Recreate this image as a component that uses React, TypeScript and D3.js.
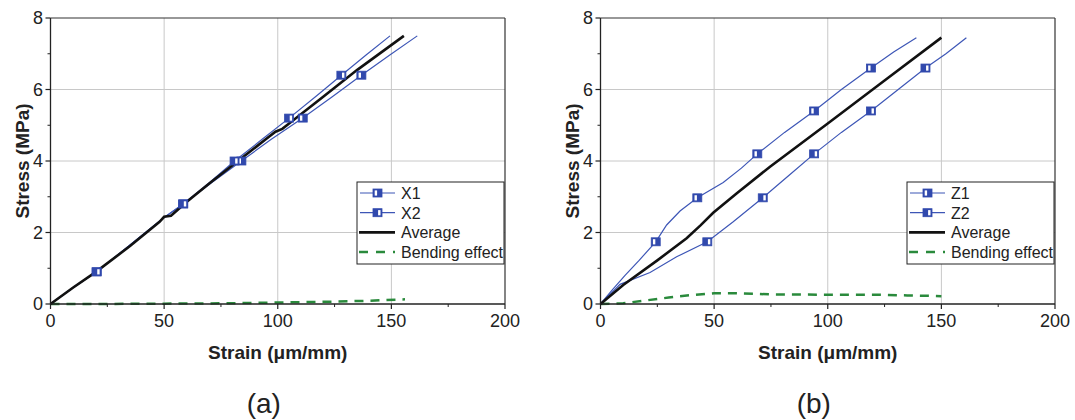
import React from 'react';
import * as d3 from 'd3';

type P = [number, number];

const xTicks = [0, 50, 100, 150, 200];
const yTicks = [0, 2, 4, 6, 8];
const xMinor = [25, 75, 125, 175];
const yMinor = [1, 3, 5, 7];
const xTitle = 'Strain (\u03bcm/mm)';
const yTitle = 'Stress (MPa)';

// Panel (a)
const x1Line: P[] = [[0, 0], [10, 0.46], [20.3, 0.9], [35, 1.65], [50, 2.42], [58.4, 2.8], [71, 3.4], [84, 4.0], [97, 4.6], [111, 5.2], [124, 5.8], [136.8, 6.4], [149, 6.95], [161.4, 7.5]];
const x1Marks: P[] = [[20.3, 0.9], [58.4, 2.8], [84, 4.0], [111, 5.2], [136.8, 6.4]];
const x2Line: P[] = [[0, 0], [10, 0.46], [20.3, 0.9], [35, 1.65], [50, 2.42], [58.4, 2.8], [70, 3.4], [81, 4.0], [93, 4.6], [105, 5.2], [117, 5.82], [128, 6.4], [139, 6.97], [149.4, 7.5]];
const x2Marks: P[] = [[20.3, 0.9], [58.4, 2.8], [81, 4.0], [105, 5.2], [128, 6.4]];
const avgA: P[] = [[0, 0], [10, 0.46], [20, 0.9], [35, 1.62], [48, 2.3], [50, 2.44], [53, 2.47], [60, 2.86], [70, 3.38], [82.5, 4.0], [95, 4.62], [99, 4.82], [102, 4.9], [105, 5.05], [120, 5.8], [135, 6.55], [155.5, 7.5]];
const bendA: P[] = [[0, 0], [20, 0.0], [50, 0.01], [80, 0.02], [100, 0.04], [120, 0.06], [140, 0.09], [156, 0.13]];

// Panel (b)
const z1Line: P[] = [[0, 0], [5, 0.38], [10.8, 0.8], [17, 1.22], [24.3, 1.74], [29.1, 2.21], [35, 2.6], [42.6, 2.97], [54, 3.4], [62, 3.8], [69, 4.2], [81, 4.8], [94, 5.4], [106, 6.0], [119, 6.6], [129, 7.05], [139, 7.45]];
const z1Marks: P[] = [[24.3, 1.74], [42.6, 2.97], [69, 4.2], [94, 5.4], [119, 6.6]];
const z2Line: P[] = [[0, 0], [8.6, 0.55], [21.8, 0.88], [33.5, 1.32], [47, 1.74], [58.4, 2.3], [71.4, 2.97], [83, 3.6], [94, 4.2], [106, 4.8], [119, 5.4], [131, 6.0], [143, 6.6], [152, 7.0], [161, 7.45]];
const z2Marks: P[] = [[47, 1.74], [71.4, 2.97], [94, 4.2], [119, 5.4], [143, 6.6]];
const avgB: P[] = [[0, 0], [10, 0.53], [25, 1.22], [37.9, 1.84], [44, 2.2], [49.6, 2.55], [60, 3.1], [74.6, 3.84], [100, 5.05], [125, 6.25], [150, 7.45]];
const bendB: P[] = [[0, 0], [10, 0.02], [20, 0.1], [30, 0.18], [40, 0.25], [50, 0.3], [60, 0.3], [75, 0.27], [100, 0.26], [120, 0.26], [135, 0.24], [150, 0.22]];

const legendA = ['X1', 'X2', 'Average', 'Bending effect'];
const legendB = ['Z1', 'Z2', 'Average', 'Bending effect'];
const panelLabels = ['(a)', '(b)'];

const FONT = '"Liberation Sans", Arial, Helvetica, sans-serif';
const BLUE = '#3d56b6';
const MBLUE = '#3149ad';
const GREEN = '#2a8a3c';

const Marker = ({ x, y, side }: { x: number; y: number; side: 'L' | 'R' }) => (
  <g transform={`translate(${x},${y})`}>
    <rect x={-4.5} y={-4} width={9} height={8} fill={MBLUE} stroke={MBLUE} strokeWidth={0.8} />
    <rect x={side === 'L' ? -2.8 : 0.6} y={-2.6} width={2.4} height={5.2} fill="#fff" />
  </g>
);

type PanelProps = {
  x0: number;
  s1: P[]; m1: P[]; s2: P[]; m2: P[]; avg: P[]; bend: P[];
  legend: string[]; label: string;
};

const Panel = ({ x0, s1, m1, s2, m2, avg, bend, legend, label }: PanelProps) => {
  const left = x0, right = x0 + 454.5, top = 18, bottom = 304;
  const x = d3.scaleLinear().domain([0, 200]).range([left, right]);
  const y = d3.scaleLinear().domain([0, 8]).range([bottom, top]);
  const line = d3.line<P>().x(d => x(d[0])).y(d => y(d[1]));
  const cx = (left + right) / 2;
  const lx = right - 148, ly = top + 164;
  const rowY = (i: number) => ly + 11 + i * 19.7;
  return (
    <g>
      {xTicks.slice(1, -1).map(t => (
        <line key={'gx' + t} x1={x(t)} x2={x(t)} y1={top} y2={bottom} stroke="#c8c8c8" strokeWidth={1} />
      ))}
      {yTicks.slice(1, -1).map(t => (
        <line key={'gy' + t} x1={left} x2={right} y1={y(t)} y2={y(t)} stroke="#c8c8c8" strokeWidth={1} />
      ))}
      <path d={line(bend) || ''} fill="none" stroke={GREEN} strokeWidth={2.5} strokeDasharray="9,7" />
      <path d={line(s1) || ''} fill="none" stroke={BLUE} strokeWidth={1.2} />
      <path d={line(s2) || ''} fill="none" stroke={BLUE} strokeWidth={1.2} />
      <path d={line(avg) || ''} fill="none" stroke="#111" strokeWidth={2.6} />
      {m1.map((d, i) => <Marker key={'m1' + i} x={x(d[0])} y={y(d[1])} side="L" />)}
      {m2.map((d, i) => <Marker key={'m2' + i} x={x(d[0])} y={y(d[1])} side="R" />)}
      {/* frame */}
      <line x1={left} x2={right} y1={top} y2={top} stroke="#333" strokeWidth={1.2} />
      <line x1={right} x2={right} y1={top} y2={bottom} stroke="#333" strokeWidth={1.2} />
      <line x1={left} x2={right} y1={bottom} y2={bottom} stroke="#222" strokeWidth={1.3} />
      <line x1={left} x2={left} y1={top} y2={bottom} stroke="#222" strokeWidth={1.3} />
      {xTicks.map(t => (
        <g key={'xt' + t}>
          <line x1={x(t)} x2={x(t)} y1={bottom} y2={bottom + 5} stroke="#222" strokeWidth={1.2} />
          <text x={x(t)} y={bottom + 23} textAnchor="middle" fontSize={18} fontFamily={FONT} fill="#222">{t}</text>
        </g>
      ))}
      {xMinor.map(t => (
        <line key={'xm' + t} x1={x(t)} x2={x(t)} y1={bottom} y2={bottom + 3} stroke="#222" strokeWidth={1} />
      ))}
      {yTicks.map(t => (
        <g key={'yt' + t}>
          <line x1={left - 5} x2={left} y1={y(t)} y2={y(t)} stroke="#222" strokeWidth={1.2} />
          <text x={left - 7.5} y={y(t) + 6.4} textAnchor="end" fontSize={18} fontFamily={FONT} fill="#222">{t}</text>
        </g>
      ))}
      {yMinor.map(t => (
        <line key={'ym' + t} x1={left - 3} x2={left} y1={y(t)} y2={y(t)} stroke="#222" strokeWidth={1} />
      ))}
      <text x={cx} y={359} textAnchor="middle" fontSize={19} fontWeight="bold" fontFamily={FONT} fill="#222">{xTitle}</text>
      <text transform={`translate(${left - 22},${(top + bottom) / 2}) rotate(-90)`} textAnchor="middle" fontSize={19} fontWeight="bold" fontFamily={FONT} fill="#222">{yTitle}</text>
      <text x={cx - 14} y={413} textAnchor="middle" fontSize={28} fontFamily={FONT} fill="#222">{label}</text>
      {/* legend */}
      <rect x={lx} y={ly} width={147} height={82} fill="#fff" stroke="#222" strokeWidth={1} />
      {legend.map((name, i) => {
        const ry = rowY(i);
        return (
          <g key={name}>
            {i < 2 && (
              <>
                <line x1={lx + 3} x2={lx + 38} y1={ry} y2={ry} stroke={BLUE} strokeWidth={1.2} />
                <Marker x={lx + 20.5} y={ry} side={i === 0 ? 'L' : 'R'} />
              </>
            )}
            {i === 2 && <line x1={lx + 2} x2={lx + 38} y1={ry} y2={ry} stroke="#111" strokeWidth={2.6} />}
            {i === 3 && <line x1={lx + 2} x2={lx + 38} y1={ry} y2={ry} stroke={GREEN} strokeWidth={2.5} strokeDasharray="9,8" />}
            <text x={lx + 44} y={ry + 5.8} fontSize={16} fontFamily={FONT} fill="#222">{name}</text>
          </g>
        );
      })}
    </g>
  );
};

export default function App() {
  return (
    <svg width={1075} height={420} style={{ position: 'absolute', left: 0, top: 0, background: '#fff' }}>
      <rect width={1075} height={420} fill="#fff" />
      <Panel x0={50.5} s1={x1Line} m1={x1Marks} s2={x2Line} m2={x2Marks} avg={avgA} bend={bendA} legend={legendA} label={panelLabels[0]} />
      <Panel x0={600.5} s1={z1Line} m1={z1Marks} s2={z2Line} m2={z2Marks} avg={avgB} bend={bendB} legend={legendB} label={panelLabels[1]} />
    </svg>
  );
}
